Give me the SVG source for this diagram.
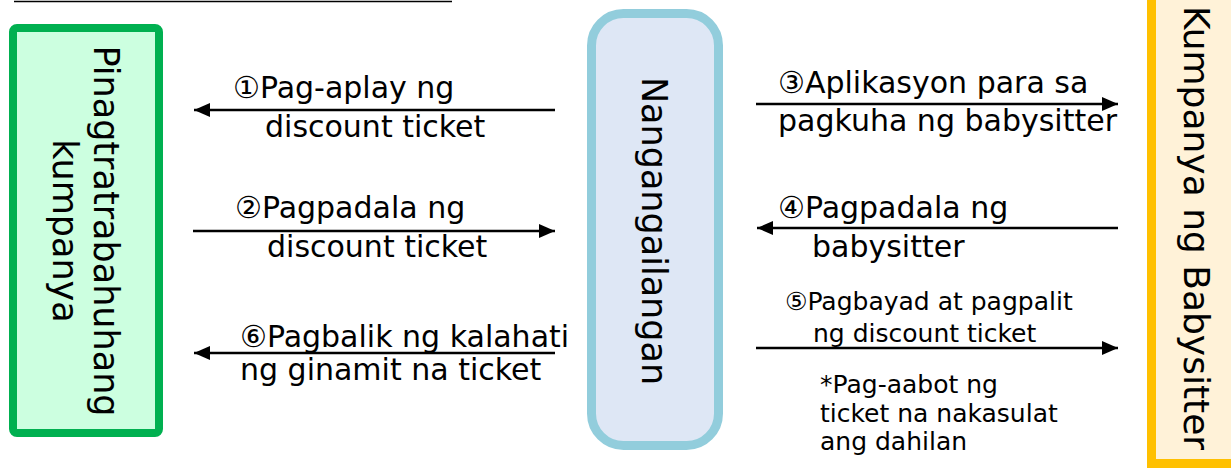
<svg xmlns="http://www.w3.org/2000/svg" width="1231" height="469" viewBox="0 0 1231 469">
<defs>
<style>
.t{font-family:"DejaVu Sans","Noto Sans CJK JP",sans-serif;font-size:30px;fill:#000}
.s{font-family:"DejaVu Sans","Noto Sans CJK JP",sans-serif;font-size:25px;fill:#000}
.v{font-family:"DejaVu Sans",sans-serif;font-size:35px;fill:#000;text-anchor:middle}
.c{stroke:#000;stroke-width:2.6;fill:none;marker-end:url(#ah)}
</style>
<marker id="ah" markerUnits="userSpaceOnUse" markerWidth="18" markerHeight="14" refX="16" refY="7" orient="auto">
<path d="M0,0 L16,7 L0,14 Z" fill="#000"/>
</marker>
</defs>
<rect width="1231" height="469" fill="#fff"/>
<line x1="14" y1="1.5" x2="452" y2="1.5" stroke="#000" stroke-width="1.6"/>
<g id="node-company">
<rect x="13" y="28" width="146" height="405" rx="4" fill="#CCFFE0" stroke="#00B050" stroke-width="8"/>
<text class="v" transform="translate(94,231) rotate(90)">Pinagtratrabahuhang</text>
<text class="v" transform="translate(53,231) rotate(90)">kumpanya</text>
</g>
<g id="node-user">
<rect x="591.5" y="13.5" width="127" height="432" rx="32" fill="#DEE7F5" stroke="#92CDDC" stroke-width="9"/>
<text class="v" transform="translate(642,231) rotate(90)">Nangangailangan</text>
</g>
<g id="node-babysitter">
<rect x="1151.5" y="-20" width="120" height="483.5" fill="#FFF2D8" stroke="#FFC000" stroke-width="9"/>
<text class="v" style="font-size:36px" transform="translate(1184,228) rotate(90)">Kumpanya ng Babysitter</text>
</g>
<g id="connectors">
<line class="c" x1="555" y1="110" x2="194" y2="110"/>
<line class="c" x1="193" y1="231" x2="555" y2="231"/>
<line class="c" x1="555" y1="353" x2="194" y2="353"/>
<line class="c" x1="756" y1="104" x2="1118" y2="104"/>
<line class="c" x1="1118" y1="228" x2="757" y2="228"/>
<line class="c" x1="756" y1="348" x2="1118" y2="348"/>
</g>
<g id="labels">
<text class="t" x="233" y="98">①Pag-aplay ng</text>
<text class="t" x="265" y="137">discount ticket</text>
<text class="t" x="235" y="218">②Pagpadala ng</text>
<text class="t" x="267" y="257">discount ticket</text>
<text class="t" x="240" y="347">⑥Pagbalik ng kalahati</text>
<text class="t" x="240" y="380">ng ginamit na ticket</text>
<text class="t" x="778" y="93">③Aplikasyon para sa</text>
<text class="t" x="778" y="131">pagkuha ng babysitter</text>
<text class="t" x="778" y="218">④Pagpadala ng</text>
<text class="t" x="812" y="257">babysitter</text>
<text class="s" x="785" y="310">⑤Pagbayad at pagpalit</text>
<text class="s" x="813" y="342">ng discount ticket</text>
<text class="s" x="820" y="393">*Pag-aabot ng</text>
<text class="s" x="820" y="422">ticket na nakasulat</text>
<text class="s" x="820" y="450">ang dahilan</text>
</g>
</svg>
